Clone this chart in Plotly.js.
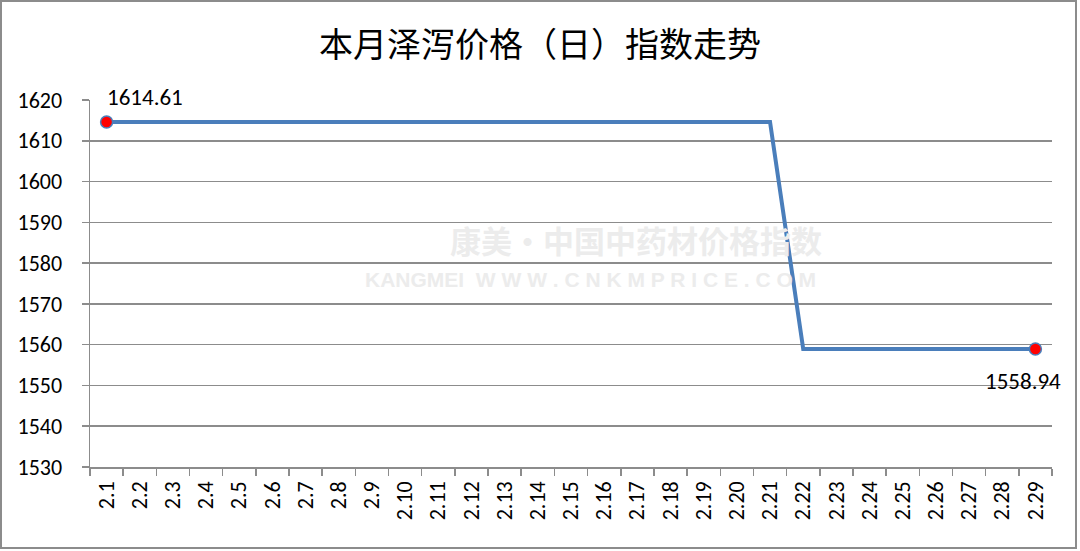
<!DOCTYPE html>
<html><head><meta charset="utf-8">
<script src="https://cdn.plot.ly/plotly-3.0.1.min.js"></script>
<style>html,body{margin:0;padding:0;background:#fff;}#wrap{position:relative;width:1080px;height:551px;}
#frame{position:absolute;left:0;top:0;width:1077px;height:549px;border:2px solid #8c8c8c;box-sizing:border-box;pointer-events:none;}</style>
</head><body>
<div id="wrap"><div id="chart" style="width:1080px;height:551px;"></div><div id="frame"></div></div>
<script>
const categories = ["2.1","2.2","2.3","2.4","2.5","2.6","2.7","2.8","2.9","2.10","2.11","2.12","2.13","2.14","2.15","2.16","2.17","2.18","2.19","2.20","2.21","2.22","2.23","2.24","2.25","2.26","2.27","2.28","2.29"];
const values = [1614.61,1614.61,1614.61,1614.61,1614.61,1614.61,1614.61,1614.61,1614.61,1614.61,1614.61,1614.61,1614.61,1614.61,1614.61,1614.61,1614.61,1614.61,1614.61,1614.61,1614.61,1558.94,1558.94,1558.94,1558.94,1558.94,1558.94,1558.94,1558.94];
const yTicks = [1530,1540,1550,1560,1570,1580,1590,1600,1610,1620];
const titleText = "本月泽泻价格（日）指数走势";

const n = categories.length;
const markerSizes = values.map((v,i)=> (i===0||i===n-1)?12:0);

const traces = [{
  x: categories, y: values, type: "scatter", mode: "lines+markers",
  line: {color: "#4a7ebb", width: 4},
  marker: {size: markerSizes, color: "#ff0000", opacity: 1, line: {color: "#4a7ebb", width: 1.5}},
  hoverinfo: "skip", cliponaxis: false
}];

const font = "Carlito, Calibri, 'Liberation Sans', Arial, sans-serif";
const layout = {
  width: 1080, height: 551,
  margin: {l: 90, r: 28, t: 100, b: 84},
  paper_bgcolor: "#fff", plot_bgcolor: "#fff",
  showlegend: false,
  title: {text: titleText, x: 0.5, xanchor: "center", y: 0.918, yanchor: "middle",
    font: {family: "'Noto Sans CJK SC', sans-serif", size: 34, color: "#000"}},
  xaxis: {type: "category", tickvals: categories, ticktext: categories, tickangle: -90,
    tickson: "boundaries", ticks: "outside", ticklen: 7, tickcolor: "#8c8c8c", tickwidth: 1.5,
    showline: true, linecolor: "#8c8c8c", linewidth: 1.5, showgrid: false, ticklabelstandoff: 4,
    tickfont: {family: font, size: 22, color: "#000"}, range: [-0.5, n-0.5], fixedrange: true},
  yaxis: {range: [1530, 1620], tickvals: yTicks, ticktext: yTicks.map(String),
    ticks: "outside", ticklen: 7, tickcolor: "#8c8c8c", tickwidth: 1.5,
    showline: true, linecolor: "#8c8c8c", linewidth: 1.5, ticklabelstandoff: 15,
    showgrid: true, gridcolor: "#8c8c8c", gridwidth: 1.5, zeroline: false,
    tickfont: {family: font, size: 22, color: "#000"}, fixedrange: true},
  annotations: [
    {x: 0.568, y: 0.62, xref: "paper", yref: "paper", text: "<b>康美·中国中药材价格指数</b>",
     showarrow: false, xanchor: "center", yanchor: "middle",
     font: {family: "'Noto Sans CJK SC', sans-serif", size: 31, color: "#ececec"}},
    {x: 0.52, y: 0.512, xref: "paper", yref: "paper",
     text: "<b>KANGMEI  W W W . C N K M P R I C E . C O M</b>",
     showarrow: false, xanchor: "center", yanchor: "middle",
     font: {family: "'Liberation Sans', Arial, sans-serif", size: 21, color: "#ececec"}},
    {x: 0, y: values[0], xref: "x", yref: "y", text: values[0].toFixed(2),
     showarrow: false, xanchor: "left", yanchor: "bottom", xshift: -2, yshift: 9,
     font: {family: font, size: 23, color: "#000"}},
    {x: n-1, y: values[n-1], xref: "x", yref: "y", text: values[n-1].toFixed(2),
     showarrow: false, xanchor: "center", yanchor: "top", xshift: -12, yshift: -16,
     font: {family: font, size: 23, color: "#000"}}
  ]
};
Plotly.newPlot("chart", traces, layout, {displayModeBar: false, staticPlot: true});
</script>
</body></html>
